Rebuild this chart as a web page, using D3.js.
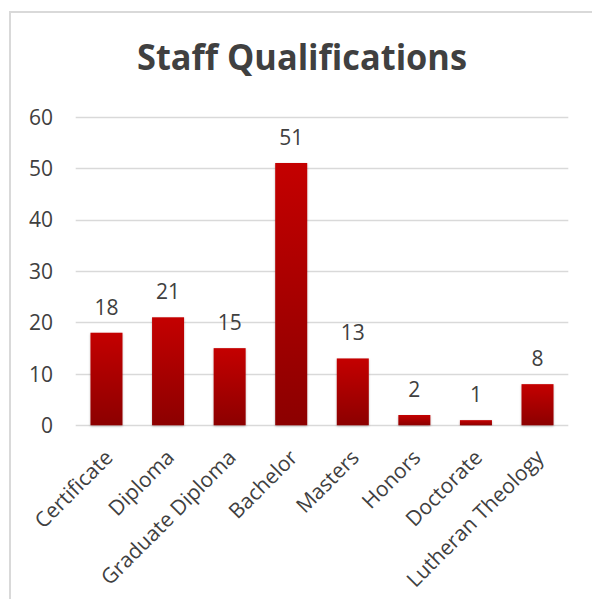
<!DOCTYPE html>
<html>
<head>
<meta charset="utf-8">
<script src="https://cdn.jsdelivr.net/npm/d3@7"></script>
<style>
html,body{margin:0;padding:0;background:#fff;}
svg{display:block;}
text{font-family:"Open Sans",sans-serif;}
</style>
</head>
<body>
<svg id="chart" width="592" height="599"></svg>
<script>
const categories = ["Certificate","Diploma","Graduate Diploma","Bachelor","Masters","Honors","Doctorate","Lutheran Theology"];
const values = [18,21,15,51,13,2,1,8];
const yTicks = [0,10,20,30,40,50,60];
const title = "Staff Qualifications";

(function(){
const svg = d3.select("#chart");
const W = 592, H = 599;
const FS = 21;

// outer border
svg.append("rect").attr("x",10).attr("y",12).attr("width",W).attr("height",H)
  .attr("fill","#fff").attr("stroke","#d9d9d9").attr("stroke-width",2);

const defs = svg.append("defs");
const grad = defs.append("linearGradient").attr("id","barGrad")
  .attr("x1",0).attr("y1",0).attr("x2",0).attr("y2",1);
grad.append("stop").attr("offset","0%").attr("stop-color","#c40000");
grad.append("stop").attr("offset","100%").attr("stop-color","#8c0000");
const filt = defs.append("filter").attr("id","shadow").attr("x","-20%").attr("y","-5%").attr("width","140%").attr("height","115%");
filt.append("feDropShadow").attr("dx",0).attr("dy",1).attr("stdDeviation",1.2).attr("flood-color","#000").attr("flood-opacity",0.25);

const pLeft = 75.7, pRight = 568.3, pTop = 116.7, pBottom = 425.3;
const x = d3.scaleBand().domain(categories).range([pLeft,pRight]).paddingInner(0.48).paddingOuter(0.24);
const y = d3.scaleLinear().domain([0,60]).range([pBottom,pTop]);

// gridlines
svg.append("g").selectAll("line").data(yTicks).join("line")
  .attr("x1",pLeft).attr("x2",pRight)
  .attr("y1",d=>Math.round(y(d))+0.5).attr("y2",d=>Math.round(y(d))+0.5)
  .attr("stroke","#d9d9d9").attr("stroke-width",1.3);

// y axis labels
const yAxis = d3.axisLeft(y).tickValues(yTicks).tickSize(0).tickPadding(0);
const ga = svg.append("g").attr("transform",`translate(53,0)`).call(yAxis);
ga.select(".domain").remove();
ga.selectAll("text").attr("font-family","'Open Sans',sans-serif").attr("font-size",FS).attr("fill","#404040").attr("dy","0.35em");

// bars
svg.append("g").selectAll("rect").data(values).join("rect")
  .attr("x",(d,i)=>x(categories[i]))
  .attr("width",x.bandwidth())
  .attr("y",d=>y(d))
  .attr("height",d=>y(0)-y(d))
  .attr("fill","url(#barGrad)")
  .attr("filter","url(#shadow)");

// data labels
svg.append("g").selectAll("text").data(values).join("text")
  .attr("x",(d,i)=>x(categories[i])+x.bandwidth()/2)
  .attr("y",d=>y(d)-18)
  .attr("text-anchor","middle")
  .attr("font-size",FS).attr("fill","#404040")
  .text(d=>d);

// x labels
const xAxis = d3.axisBottom(x).tickSize(0).tickPadding(0);
const gx = svg.append("g").attr("transform",`translate(0,${pBottom})`).call(xAxis);
gx.select(".domain").remove();
gx.selectAll("text")
  .attr("font-family","'Open Sans',sans-serif").attr("font-size",FS).attr("fill","#404040")
  .attr("text-anchor","end")
  .attr("transform","translate(-3,23) rotate(-45)")
  .attr("x",0).attr("y",0).attr("dy","0.71em");

// title
const t = svg.append("text").attr("x",302).attr("y",69.5).attr("text-anchor","middle")
  .attr("font-size",35).attr("font-weight","bold").attr("fill","#404040").text(title);
const tl = t.node().getComputedTextLength();
if (tl > 330) t.attr("textLength",330).attr("lengthAdjust","spacingAndGlyphs");
})();
</script>
</body>
</html>
